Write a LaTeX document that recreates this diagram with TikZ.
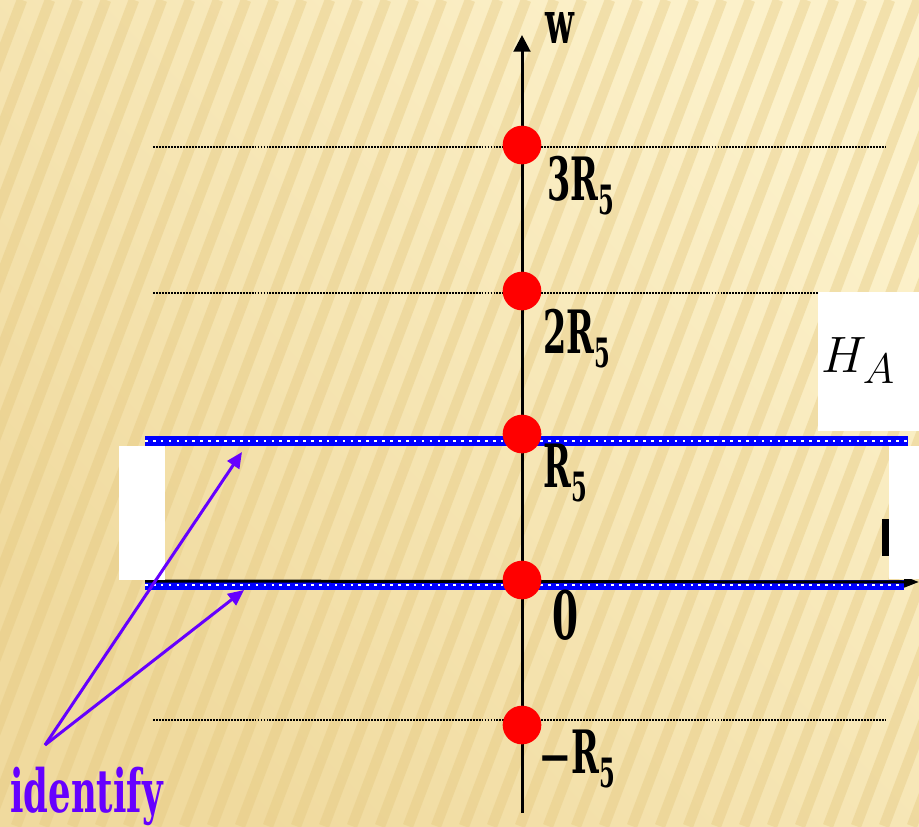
\documentclass[tikz,border=0pt]{standalone}
\usepackage{fontspec}
\usepackage{graphicx}
\usetikzlibrary{arrows.meta}
\newfontfamily\slabfont{DejaVu Serif}
\definecolor{paperUR}{HTML}{FCF1CA}
\definecolor{paperLL}{HTML}{F0DA9E}
\definecolor{stripeclr}{HTML}{E4C77E}
\definecolor{idpurple}{HTML}{6600FF}
\newcommand{\axlab}[1]{\scalebox{0.56}[1]{\slabfont\bfseries\fontsize{34}{34}\selectfont #1}}
\newcommand{\subfive}{\raisebox{-8.5pt}{\fontsize{23}{23}\selectfont 5}}

\begin{document}
\begin{tikzpicture}[
  x=0.02cm, y=-0.02cm,
  stripe/.style={draw=stripeclr, line width=6pt, opacity=0.4},
  dot/.style={circle, fill=red, inner sep=0pt, minimum size=22pt},
  guide/.style={draw=black, line width=1.1pt, dash pattern=on 1.1pt off 0.6pt},
  band/.style={draw=blue, line width=5.3pt,
    postaction={draw=white, line width=1.5pt, dash pattern=on 1.5pt off 3pt}},
  axis/.style={draw=black, line width=1.7pt},
  idarr/.style={draw=idpurple, line width=1.7pt, -{Triangle[length=9pt,width=8pt]}},
  lab/.style={anchor=base west, inner sep=0pt},
  whitebox/.style={fill=white}
]
\useasboundingbox (0,0) rectangle (919,826);
% background
\shade[top color=paperUR, bottom color=paperLL, shading angle=-45]
  (0,0) rectangle (919,826);
\begin{scope}
  \clip (0,0) rectangle (919,826);
  \foreach \sx in {-320,-292,...,920}
    \draw[stripe] (\sx,826) -- ++(314,-826);
\end{scope}

% dotted levels
\coordinate (g3l) at (153,147); \coordinate (g3r) at (886,147);
\coordinate (g2l) at (153,293); \coordinate (g2r) at (886,293);
\coordinate (gml) at (153,720); \coordinate (gmr) at (886,720);
\draw[guide] (g3l) -- (g3r);
\draw[guide] (g2l) -- (g2r);
\draw[guide] (gml) -- (gmr);

% identified lines
\coordinate (b1l) at (145,441); \coordinate (b1r) at (908,441);
\coordinate (b0l) at (145,585); \coordinate (b0r) at (904,585);
\draw[band] (b1l) -- (b1r);
\draw[band] (b0l) -- (b0r);

% axes
\coordinate (hl) at (145,581); \coordinate (hr) at (919,582);
\draw[axis, -{Triangle[length=8.5pt,width=6pt]}] (hl) -- (hr);
\coordinate (vbot) at (522,813); \coordinate (vtop) at (522,35);
\draw[axis, -{Triangle[length=9.5pt,width=9.5pt]}] (vbot) -- (vtop);
\node[lab] (w) at (545,43) {\axlab{w}};

% white patches
\fill[whitebox] (119,446) rectangle (165,580);
\fill[whitebox] (818,292) rectangle (919,431);
\fill[whitebox] (889,446) rectangle (919,579);
\fill[black] (882,519) rectangle (889,556);
\node[lab] (ha) at (821,372) {\scalebox{1.17}{\fontsize{24.88}{25}\selectfont$H_A$}};

% points on the w axis
\node[dot] (p3) at (522,145) {};
\node[dot] (p2) at (522,291) {};
\node[dot] (p1) at (522,434) {};
\node[dot] (p0) at (522,580) {};
\node[dot] (pm) at (522,725) {};
\node[lab] (l3) at (547,200) {\axlab{3R\subfive}};
\node[lab] (l2) at (543,353) {\axlab{2R\subfive}};
\node[lab] (l1) at (543,487) {\axlab{R\subfive}};
\node[lab] (l0) at (552,639) {\axlab{\fontsize{38}{38}\selectfont 0}};
\node[lab] (lm) at (538,773) {\axlab{\scalebox{1.2}[0.8]{−}R\subfive}};

% identify
\node[lab, text=idpurple] (ident) at (10,812) {\scalebox{1.06}[1]{\axlab{identify}}};
\coordinate (src) at (45,745);
\coordinate (tipA) at (242,452);
\coordinate (tipB) at (244,590);
\draw[idarr] (src) -- (tipA);
\draw[idarr] (src) -- (tipB);
\end{tikzpicture}
\end{document}
